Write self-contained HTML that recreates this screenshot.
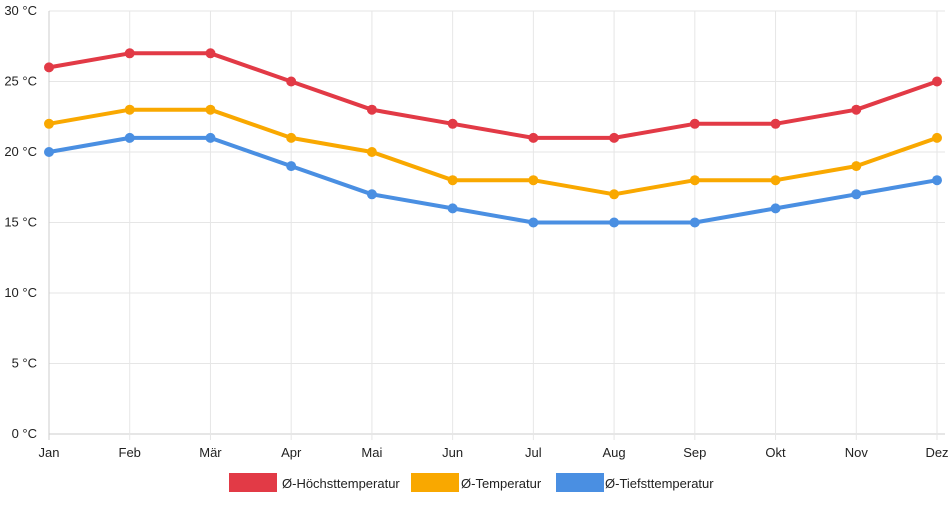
<!DOCTYPE html>
<html><head><meta charset="utf-8"><style>
body{margin:0;background:#fff;}
svg text{font-family:"Liberation Sans",sans-serif;font-size:13px;fill:#222;}
</style></head><body>
<svg id="chart" width="952" height="500" xmlns="http://www.w3.org/2000/svg"></svg>
<script>
const months=["Jan","Feb","Mär","Apr","Mai","Jun","Jul","Aug","Sep","Okt","Nov","Dez"];
const high=[26,27,27,25,23,22,21,21,22,22,23,25];
const avg=[22,23,23,21,20,18,18,17,18,18,19,21];
const low=[20,21,21,19,17,16,15,15,15,16,17,18];
const yTicks=[0,5,10,15,20,25,30];
const seriesNames=["Ø-Höchsttemperatur","Ø-Temperatur","Ø-Tiefsttemperatur"];
const colors=["#e23a46","#f9a800","#4a8fe2"];
const NS="http://www.w3.org/2000/svg";
const svg=document.getElementById('chart');
const x0=49,x1=937,y0=434,y1=11;
const xs=i=>x0+i*(x1-x0)/(months.length-1);
const ys=v=>y0-(v-0)*(y0-y1)/30;
function mk(t,a,p){const e=document.createElementNS(NS,t);for(const k in a)e.setAttribute(k,a[k]);(p||svg).appendChild(e);return e;}
const grid=mk('g',{});


yTicks.forEach(v=>{
  mk('line',{x1:x0,x2:x1+8,y1:ys(v),y2:ys(v),stroke:v===0?'#ccc':'#e6e6e6'},grid);
  const t=mk('text',{x:37,y:ys(v)+4,'text-anchor':'end'});
  
  
  t.textContent=v+' °C';
});
months.forEach((m,i)=>{
  mk('line',{x1:xs(i),x2:xs(i),y1:y1,y2:y0+6,stroke:i===0?'#ccc':'#e6e6e6'},grid);
  const t=mk('text',{x:xs(i),y:457,'text-anchor':'middle'});
  
  
  t.textContent=m;
});
[high,avg,low].forEach((d,s)=>{
  const g=mk('g',{});
  
  
  mk('polyline',{points:d.map((v,i)=>xs(i)+','+ys(v)).join(' '),fill:'none',stroke:colors[s],'stroke-width':4,'stroke-linejoin':'round'},g);
  d.forEach((v,i)=>{const c=mk('circle',{cx:xs(i),cy:ys(v),r:5,fill:colors[s]},g);
    
    });
});
const lx=[229,411,556],lw=[48,48,48],tx=[282,461,605];
seriesNames.forEach((n,s)=>{
  const g=mk('g',{});
  
  
  mk('rect',{x:lx[s],y:473,width:lw[s],height:19,fill:colors[s]},g);
  const t=mk('text',{x:tx[s],y:488},g);t.textContent=n;
});
</script>
</body></html>
